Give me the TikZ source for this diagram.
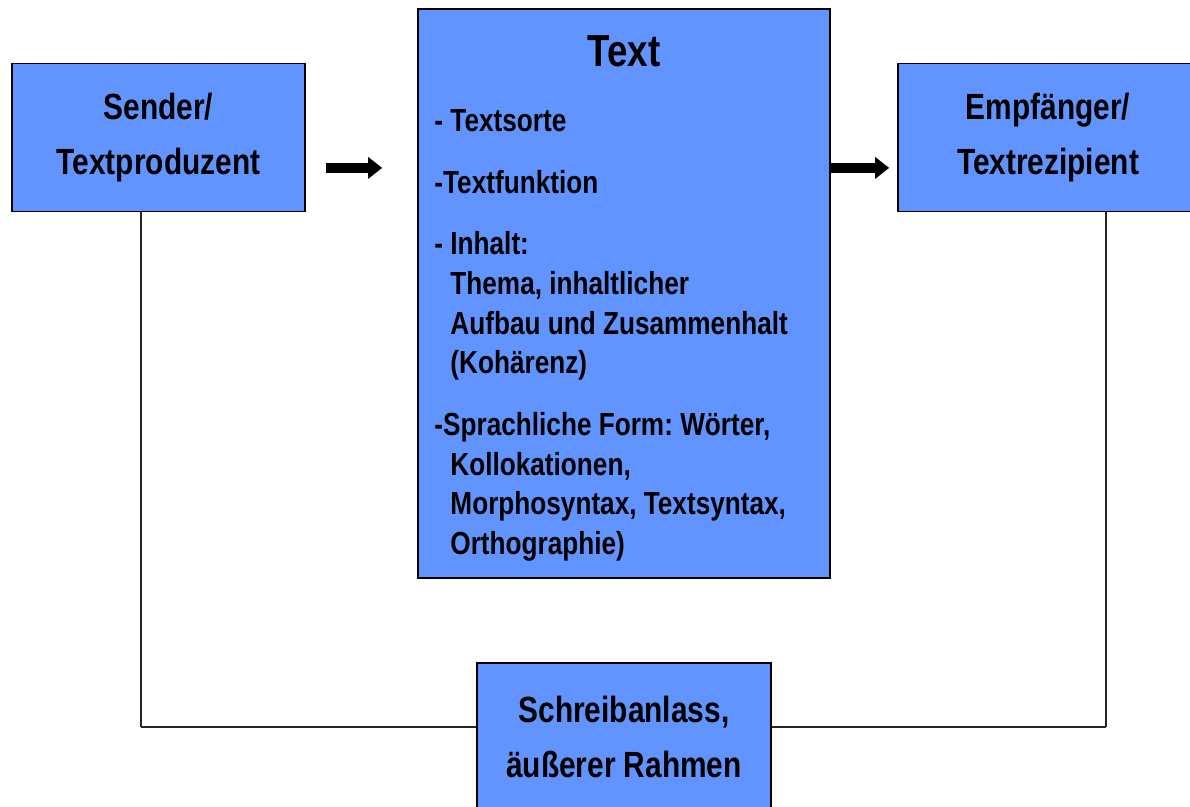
\documentclass[tikz,border=0pt]{standalone}
\usepackage{fontspec}
\usepackage{xcolor}
\usepackage{tikz}
\usetikzlibrary{calc, arrows.meta, positioning}
\newfontfamily\boxfont{Liberation Sans}[FakeStretch=0.82]
\definecolor{boxblue}{RGB}{98,148,255}

\begin{document}
\frenchspacing
\begin{tikzpicture}[x=0.025cm, y=-0.025cm,
			block/.style={draw=black, line width=1.1pt, fill=boxblue, rectangle, align=center, minimum height=3.7cm, inner sep=0pt, font=\boxfont\bfseries\fontsize{25.9}{39.7}\selectfont},
			heading/.style={inner sep=0pt, font=\boxfont\bfseries\fontsize{31.9}{38}\selectfont},
			items/.style={inner sep=0pt, align=left, font=\boxfont\bfseries\fontsize{22.7}{28.2}\selectfont},
			link/.style={draw=black!85, line width=1.2pt},
			bigarrow/.style={line width=7.5pt, -{Triangle[length=10pt, width=15pt]}}
			]
			\useasboundingbox (0,0) rectangle (1190,807);
			\clip (0,0) rectangle (1190,807);
			
			% lines round the bottom box, drawn first
			\coordinate (lo) at (141,727);
			\coordinate (ro) at (1106,727);
			
			\node [block, minimum width=7.325cm](sender) at (158.5,137.5) {Sender/\\Textproduzent};
			\node [block, minimum width=10.3cm, minimum height=14.225cm](text) at (624,293.5) {};
			\node [block, minimum width=7.5cm](empf) at (1048,137.5) {Empfänger/\\Textrezipient};
			
			\node [heading, anchor=base](title) at ([yshift=-1.45cm]text.north) {Text};
			\node [items, anchor=north west](inhalt) at ([xshift=0.425cm, yshift=-2.53cm]text.north west) {%
				- Textsorte\\[15.6pt]
				-Textfunktion\\[15.6pt]
				- Inhalt:\\
				\hphantom{- }Thema, inhaltlicher\\
				\hphantom{- }Aufbau und Zusammenhalt\\
				\hphantom{- }(Kohärenz)\\[15.6pt]
				-Sprachliche Form: Wörter,\\
				\hphantom{- }Kollokationen,\\
				\hphantom{- }Morphosyntax, Textsyntax,\\
				\hphantom{- }Orthographie)};
			
			\draw[link] (sender.south -| lo) -- (lo);
			\draw[link] (empf.south -| ro) -- (ro);
			\draw[link] (lo) -- (ro);
			
			\node [block, minimum width=7.35cm](anlass) at (624,737) {Schreibanlass,\\äußerer Rahmen};
			
			\draw[bigarrow] ([xshift=0.5cm, yshift=-0.76cm]sender.east) -- ([xshift=-0.875cm, yshift=-0.76cm]sender.east -| text.west);
			\draw[bigarrow] ([yshift=-0.76cm]empf.west -| text.east) -- ([xshift=-0.2cm, yshift=-0.76cm]empf.west);
			
		\end{tikzpicture}
\end{document}
